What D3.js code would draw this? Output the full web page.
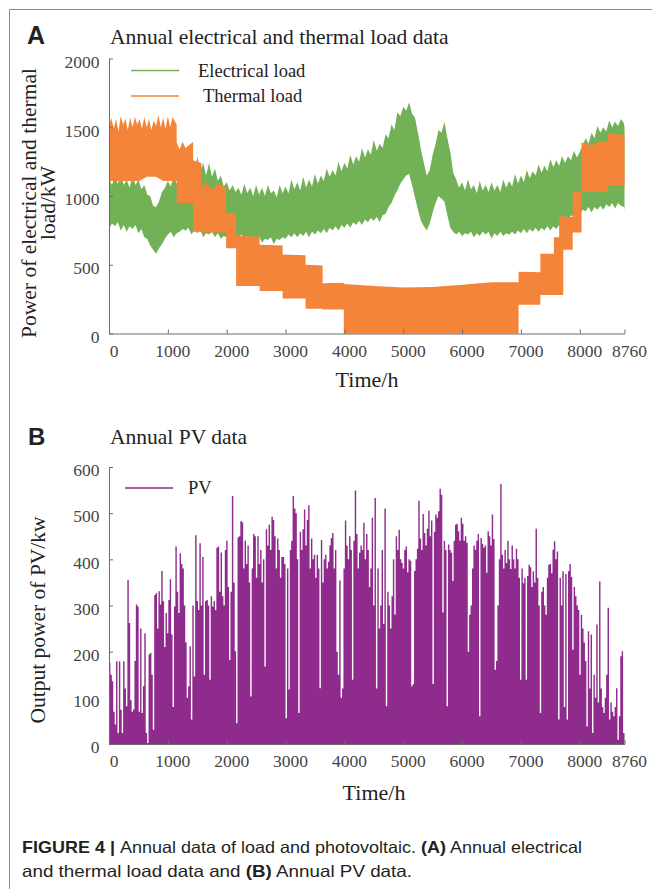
<!DOCTYPE html>
<html>
<head>
<meta charset="utf-8">
<script src="https://cdn.jsdelivr.net/npm/d3@7"></script>
<style>
body { margin: 0; background: #fff; }
svg text { font-family: "Liberation Serif", "Times New Roman", serif; }
</style>
</head>
<body>
<svg id="chart" width="652" height="889"></svg>
<script>
var timeTicks = [0, 1000, 2000, 3000, 4000, 5000, 6000, 7000, 8000, 8760]
var loadTicks = [0, 500, 1000, 1500, 2000]
var pvTicks = [0, 100, 200, 300, 400, 500, 600]

// electrical load, band of the hourly curve (min / max) read every 50 h
var elecHours = [0, 50, 100, 150, 200, 250, 300, 350, 400, 450,
  500, 550, 600, 650, 700, 750, 800, 850, 900, 950,
  1000, 1050, 1100, 1150, 1200, 1250, 1300, 1350, 1400, 1450,
  1500, 1550, 1600, 1650, 1700, 1750, 1800, 1850, 1900, 1950,
  2000, 2050, 2100, 2150, 2200, 2250, 2300, 2350, 2400, 2450,
  2500, 2550, 2600, 2650, 2700, 2750, 2800, 2850, 2900, 2950,
  3000, 3050, 3100, 3150, 3200, 3250, 3300, 3350, 3400, 3450,
  3500, 3550, 3600, 3650, 3700, 3750, 3800, 3850, 3900, 3950,
  4000, 4050, 4100, 4150, 4200, 4250, 4300, 4350, 4400, 4450,
  4500, 4550, 4600, 4650, 4700, 4750, 4800, 4850, 4900, 4950,
  5000, 5050, 5100, 5150, 5200, 5250, 5300, 5350, 5400, 5450,
  5500, 5550, 5600, 5650, 5700, 5750, 5800, 5850, 5900, 5950,
  6000, 6050, 6100, 6150, 6200, 6250, 6300, 6350, 6400, 6450,
  6500, 6550, 6600, 6650, 6700, 6750, 6800, 6850, 6900, 6950,
  7000, 7050, 7100, 7150, 7200, 7250, 7300, 7350, 7400, 7450,
  7500, 7550, 7600, 7650, 7700, 7750, 7800, 7850, 7900, 7950,
  8000, 8050, 8100, 8150, 8200, 8250, 8300, 8350, 8400, 8450,
  8500, 8550, 8600, 8650, 8700, 8750, 8760]
var elecHigh = [1130, 1080, 1140, 1090, 1160, 1080, 1120, 1060, 1150, 1080,
  1120, 1050, 1080, 1010, 1000, 930, 920, 960, 1030, 1060,
  1110, 1070, 1150, 1090, 1130, 1090, 1170, 1110, 1190, 1130,
  1290, 1180, 1240, 1150, 1240, 1140, 1200, 1110, 1150, 1070,
  1100, 1040, 1080, 1030, 1060, 1010, 1090, 1020, 1060, 1000,
  1080, 1010, 1060, 1000, 1080, 1020, 1040, 990, 1080, 1020,
  1070, 1020, 1120, 1050, 1100, 1040, 1140, 1060, 1120, 1070,
  1160, 1090, 1150, 1110, 1200, 1140, 1190, 1150, 1250, 1180,
  1240, 1200, 1300, 1230, 1290, 1250, 1350, 1280, 1340, 1300,
  1410, 1330, 1380, 1350, 1450, 1420, 1520, 1480, 1610, 1580,
  1650, 1620, 1680, 1600, 1570, 1460, 1340, 1240, 1150, 1190,
  1300, 1380, 1480, 1460, 1540, 1420, 1320, 1170, 1120, 1060,
  1100, 1040, 1120, 1050, 1080, 1020, 1110, 1040, 1080, 1030,
  1100, 1040, 1080, 1030, 1120, 1060, 1110, 1070, 1160, 1090,
  1150, 1100, 1190, 1130, 1180, 1150, 1230, 1170, 1220, 1180,
  1270, 1210, 1260, 1220, 1290, 1240, 1290, 1260, 1330, 1280,
  1320, 1370, 1420, 1380, 1460, 1420, 1510, 1460, 1500, 1470,
  1550, 1500, 1540, 1510, 1560, 1530, 1500]
var elecLow = [760, 800, 780, 810, 750, 790, 740, 780, 760, 790,
  730, 760, 700, 690, 640, 610, 580, 620, 650, 690,
  720, 740, 700, 730, 740, 760, 750, 770, 720, 750,
  730, 760, 700, 730, 720, 740, 700, 730, 690, 710,
  700, 720, 680, 710, 690, 720, 690, 710, 680, 700,
  690, 710, 660, 690, 680, 700, 650, 690, 680, 700,
  690, 720, 700, 730, 700, 730, 710, 740, 700, 740,
  720, 750, 730, 760, 730, 770, 750, 780, 750, 790,
  770, 800, 770, 810, 790, 820, 790, 830, 810, 840,
  820, 850, 810, 860, 870, 920, 950, 1000, 1040, 1090,
  1120, 1150, 1160, 1080, 990, 900, 820, 780, 750, 800,
  880, 950, 1000, 980, 960, 860, 770, 740, 720, 740,
  710, 730, 720, 740, 700, 730, 710, 740, 720, 740,
  690, 730, 710, 740, 710, 730, 720, 740, 720, 750,
  730, 760, 730, 760, 740, 770, 740, 770, 750, 780,
  750, 780, 760, 790, 780, 820, 830, 860, 850, 880,
  870, 900, 890, 920, 880, 920, 900, 930, 900, 940,
  920, 950, 910, 950, 930, 920, 900]

// thermal load band (min / max); a repeated hour is a step
var thermHours = [0, 40, 80, 120, 160, 200, 240, 280, 320, 360, 400, 440, 480, 520, 560,
  600, 640, 680, 720, 760, 800, 840, 880, 920, 960, 1000, 1040, 1080, 1150,
  1150, 1200, 1250, 1300, 1430, 1430, 1570, 1570, 1650, 1750, 1850, 1990, 1990, 2160,
  2160, 2560, 2560, 2950, 2950, 3340, 3340, 3630, 3630, 3990, 3990,
  4500, 5000, 5500, 6000, 6500, 6960, 6960, 7330, 7330, 7560, 7560, 7650, 7650, 7720, 7720,
  7880, 7880, 8030, 8030, 8200, 8350, 8480, 8480, 8620, 8760]
var thermLow = [1110, 1110, 1110, 1110, 1110, 1110, 1110, 1110, 1110, 1110, 1110, 1110, 1110, 1110, 1120,
  1130, 1140, 1140, 1140, 1140, 1140, 1130, 1120, 1110, 1110, 1110, 1110, 1110, 1110,
  950, 950, 950, 950, 950, 740, 740, 735, 735, 735, 735, 735, 620, 620,
  345, 345, 310, 310, 255, 255, 180, 180, 175, 175, 0,
  0, 0, 0, 0, 0, 0, 210, 210, 280, 280, 280, 280, 280, 280, 610,
  610, 735, 735, 1030, 1030, 1030, 1030, 1075, 1075, 1075]
var thermHigh = [1500, 1570, 1490, 1560, 1470, 1580, 1520, 1560, 1480, 1570, 1500, 1575, 1520, 1560, 1490,
  1575, 1500, 1560, 1480, 1550, 1510, 1590, 1500, 1570, 1490, 1580, 1500, 1575, 1520,
  1390, 1340, 1395, 1350, 1395, 1260, 1240, 1060, 1100, 1050, 1090, 1060, 880, 870,
  710, 705, 645, 640, 575, 570, 500, 495, 365, 370, 360,
  345, 335, 338, 355, 372, 372, 450, 445, 580, 580, 700, 700, 860, 860, 850,
  850, 1030, 1030, 1390, 1370, 1400, 1390, 1460, 1445, 1450]

// PV, daily peak output (kW), day 0..364
var pvDailyPeak = [
  176, 150, 136, 70, 42, 179, 24, 179, 74, 24,
  179, 120, 82, 355, 262, 95, 70, 75, 180, 302,
  298, 70, 250, 67, 125, 240, 24, 2, 194, 197,
  150, 31, 323, 327, 250, 331, 302, 375, 309, 210,
  284, 240, 312, 357, 237, 80, 298, 428, 330, 284,
  413, 390, 380, 300, 220, 100, 125, 212, 53, 300,
  146, 452, 310, 290, 435, 300, 405, 150, 310, 312,
  300, 139, 320, 298, 310, 290, 425, 428, 330, 415,
  320, 300, 420, 440, 340, 182, 330, 537, 350, 201,
  45, 448, 450, 483, 480, 380, 440, 390, 430, 350,
  103, 380, 455, 450, 360, 450, 390, 420, 350, 400,
  168, 465, 430, 475, 420, 492, 485, 450, 380, 445,
  420, 360, 405, 405, 390, 56, 380, 118, 420, 440,
  537, 510, 500, 400, 67, 460, 420, 465, 508, 430,
  485, 517, 380, 445, 400, 410, 360, 410, 380, 121,
  442, 350, 400, 410, 380, 395, 430, 446, 457, 380,
  420, 200, 150, 354, 100, 120, 380, 484, 430, 400,
  450, 420, 139, 440, 549, 455, 380, 414, 430, 420,
  479, 400, 455, 420, 340, 380, 490, 300, 533, 120,
  380, 250, 300, 420, 260, 510, 82, 330, 300, 250,
  320, 400, 280, 450, 420, 464, 400, 392, 380, 420,
  428, 372, 400, 397, 125, 130, 375, 400, 423, 527,
  445, 420, 498, 457, 430, 466, 505, 450, 484, 130,
  460, 497, 490, 504, 553, 540, 285, 440, 420, 82,
  432, 420, 414, 353, 440, 475, 477, 461, 440, 490,
  477, 440, 450, 436, 200, 280, 300, 380, 430, 421,
  440, 455, 60, 446, 434, 425, 430, 371, 461, 450,
  430, 497, 444, 161, 180, 300, 400, 563, 410, 380,
  420, 392, 440, 400, 379, 430, 400, 380, 423, 400,
  360, 139, 380, 348, 360, 139, 364, 388, 383, 340,
  374, 350, 466, 360, 300, 67, 330, 340, 300, 280,
  360, 388, 390, 370, 421, 439, 400, 417, 53, 360,
  300, 374, 80, 368, 53, 374, 390, 362, 204, 340,
  320, 300, 290, 150, 280, 250, 220, 180, 38, 244,
  120, 237, 24, 150, 100, 259, 90, 352, 120, 80,
  67, 100, 150, 295, 53, 90, 70, 60, 80, 121,
  9, 60, 190, 201, 24]

var green = '#72b155', orange = '#f3843a', purple = '#8e2b8c'
var axisColor = '#6b6b6b', labelColor = '#444'
var serif = '"Liberation Serif", "Times New Roman", serif'

var svg = d3.select('#chart')

// figure frame
svg.append('path').attr('d', 'M9.5,889V9.5H652').attr('fill', 'none').attr('stroke', '#8c8c8c')

var x = d3.scaleLinear().domain([0, 8760]).range([109, 624.5])
var yA = d3.scaleLinear().domain([0, 2000]).range([333.5, 58.5])
var yB = d3.scaleLinear().domain([0, 600]).range([744, 467])

function label(g, txt, px, py, size, opts) {
  var t = g.append('text').attr('x', px).attr('y', py).style('font-size', size + 'px').attr('fill', '#222').text(txt)
  if (opts && opts.anchor) t.attr('text-anchor', opts.anchor)
  if (opts && opts.rotate) t.attr('transform', 'rotate(-90,' + px + ',' + py + ')')
  if (opts && opts.sans) t.style('font-family', '"Liberation Sans", Arial, sans-serif').style('font-weight', 'bold')
  return t
}

function drawAxes(g, y, ticks) {
  var base = y.range()[0]
  var fmt = d3.format('d')
  var ax = g.append('g').attr('transform', 'translate(0,' + base + ')')
    .call(d3.axisBottom(x).tickValues(timeTicks).tickFormat(fmt).tickSize(-4).tickSizeOuter(0).tickPadding(11))
  ax.selectAll('text').attr('dx', 4.5)
  var ay = g.append('g').attr('transform', 'translate(' + x.range()[0] + ',0)')
    .call(d3.axisLeft(y).tickValues(ticks).tickFormat(fmt).tickSize(-4).tickSizeOuter(0).tickPadding(9.5))
  ay.selectAll('text').attr('dy', '0.5em')
  ax.attr('font-family', serif).attr('font-size', 17.5)
  ay.attr('font-family', serif).attr('font-size', 17.5)
  g.selectAll('.domain, .tick line').attr('stroke', axisColor)
  g.selectAll('.tick text').attr('fill', labelColor)
}

function legendItem(g, color, x1, x2, ly, txt, tx) {
  g.append('line').attr('x1', x1).attr('x2', x2).attr('y1', ly).attr('y2', ly)
    .attr('stroke', color).attr('stroke-width', 1.3)
  label(g, txt, tx, ly + 6, 18.5)
}

// ---- panel A
var gA = svg.append('g')
var elecArea = d3.area()
  .x(function(d, i) { return x(elecHours[i]) })
  .y0(function(d, i) { return yA(elecLow[i]) })
  .y1(function(d, i) { return yA(elecHigh[i]) })
gA.append('path').datum(elecHours).attr('d', elecArea).attr('fill', green)

var thermArea = d3.area()
  .x(function(d, i) { return x(thermHours[i]) })
  .y0(function(d, i) { return yA(thermLow[i]) })
  .y1(function(d, i) { return yA(thermHigh[i]) })
gA.append('path').datum(thermHours).attr('d', thermArea).attr('fill', orange)

drawAxes(gA, yA, loadTicks)
legendItem(gA, green, 131, 179, 70.5, 'Electrical load', 198)
legendItem(gA, orange, 131, 179, 96, 'Thermal load', 203)

label(gA, 'A', 27, 43.5, 25, { sans: true })
label(gA, 'Annual electrical and thermal load data', 110, 43.5, 21.5)
label(gA, 'Power of electrical and thermal', 36, 203, 21.5, { anchor: 'middle', rotate: true })
label(gA, 'load/kW', 55, 203, 21.5, { anchor: 'middle', rotate: true })
label(gA, 'Time/h', 367, 387, 22, { anchor: 'middle' })

// ---- panel B
var gB = svg.append('g')
var pvData = pvDailyPeak.concat([pvDailyPeak[pvDailyPeak.length - 1]])
var pvArea = d3.area().curve(d3.curveStepAfter)
  .x(function(d, i) { return x(Math.min(i * 24, 8760)) })
  .y0(yB(0))
  .y1(function(d) { return yB(d) })
gB.append('path').datum(pvData).attr('d', pvArea).attr('fill', purple)

drawAxes(gB, yB, pvTicks)
legendItem(gB, purple, 125, 173, 488, 'PV', 188)

label(gB, 'B', 28, 445, 24, { sans: true })
label(gB, 'Annual PV data', 110, 444, 21.5)
label(gB, 'Output power of PV/kw', 45, 620, 21.5, { anchor: 'middle', rotate: true })
label(gB, 'Time/h', 374, 800, 22, { anchor: 'middle' })

// ---- caption
function caption(parts, py, len) {
  var t = svg.append('text').attr('x', 22).attr('y', py)
    .attr('textLength', len).attr('lengthAdjust', 'spacingAndGlyphs')
    .style('font-family', '"Liberation Sans Narrow", "Liberation Sans", Arial, sans-serif')
    .style('font-size', '16.5px').attr('fill', '#231f20')
  parts.forEach(function(p) {
    t.append('tspan').style('font-weight', p[1] ? 'bold' : 'normal').text(p[0])
  })
}
caption([['FIGURE 4 | ', true], ['Annual data of load and photovoltaic. ', false], ['(A)', true], [' Annual electrical', false]], 852.5, 560)
caption([['and thermal load data and ', false], ['(B)', true], [' Annual PV data.', false]], 876.5, 390)
</script>
</body>
</html>
